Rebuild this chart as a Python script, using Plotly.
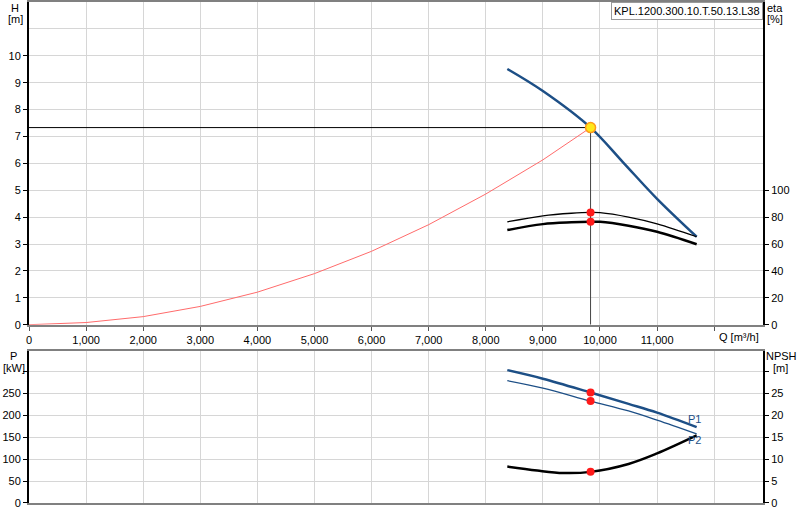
"""Pump performance chart: head / efficiency on top, power / NPSH below."""

import plotly.graph_objects as go

# operating point
OP_Q = 9835
OP_H = 7.33
OP_ETA = [83.5, 76.5]
OP_P = [252, 232.5]
OP_NPSH = 7.1

# pump head curve
Q_H = [8377, 9000, 9835, 10408, 11000, 11693]
H = [9.51, 8.69, 7.33, 6.03, 4.68, 3.27]

# system curve
Q_SYS = [0, 1000, 2000, 3000, 4000, 5000, 6000, 7000, 8000, 9000, 9835]
H_SYS = [0, 0.08, 0.30, 0.68, 1.21, 1.90, 2.73, 3.72, 4.86, 6.13, 7.33]

# efficiency curves
Q_ETA = [8377, 9000, 9500, 9835, 10000, 10500, 11000, 11693]
ETA_1 = [76.5, 81.0, 82.9, 83.5, 83.3, 80.0, 75.0, 65.4]
ETA_2 = [70.4, 74.8, 76.1, 76.5, 76.5, 73.6, 69.1, 59.8]

# power curves
Q_P = [8377, 9000, 9835, 10500, 11000, 11693]
P1 = [303, 283.5, 252, 226, 206, 173]
P2 = [279, 262, 232.5, 210, 189, 157.5]

# NPSH curve
Q_NPSH = [8377, 8900, 9358, 9835, 10500, 11000, 11693]
NPSH = [8.3, 7.4, 6.85, 7.1, 8.9, 11.3, 15.4]

Q_TICKS = list(range(0, 13000, 1000))
Q_LABELS = [f"{q:,}" for q in Q_TICKS[:-1]] + [""]
MODEL = "KPL.1200.300.10.T.50.13.L38"

BLUE = "#1d4f86"
GRID = "#d6d6d6"
FONT = dict(family="Liberation Sans, Arial, sans-serif", size=11, color="#000000")

fig = go.Figure()

# top panel
fig.add_trace(go.Scatter(x=Q_SYS, y=H_SYS, mode="lines", line=dict(color="#ff6b6b", width=1),
                         xaxis="x", yaxis="y"))
fig.add_trace(go.Scatter(x=[0, OP_Q], y=[OP_H, OP_H], mode="lines", line=dict(color="#000000", width=1),
                         xaxis="x", yaxis="y"))
fig.add_trace(go.Scatter(x=[OP_Q, OP_Q], y=[OP_H, 0], mode="lines", line=dict(color="#444444", width=1),
                         xaxis="x", yaxis="y"))
fig.add_trace(go.Scatter(x=Q_H, y=H, mode="lines", line=dict(color=BLUE, width=2.5, shape="spline"),
                         xaxis="x", yaxis="y"))
fig.add_trace(go.Scatter(x=Q_ETA, y=ETA_1, mode="lines", line=dict(color="#000000", width=1.3, shape="spline"),
                         xaxis="x", yaxis="y2"))
fig.add_trace(go.Scatter(x=Q_ETA, y=ETA_2, mode="lines", line=dict(color="#000000", width=2.5, shape="spline"),
                         xaxis="x", yaxis="y2"))
fig.add_trace(go.Scatter(x=[OP_Q, OP_Q], y=OP_ETA, mode="markers", marker=dict(color="#ff1a1a", size=8),
                         xaxis="x", yaxis="y2"))
fig.add_trace(go.Scatter(x=[OP_Q], y=[OP_H], mode="markers",
                         marker=dict(color="#ffe81a", size=10, line=dict(color="#ff9a1a", width=1.5)),
                         xaxis="x", yaxis="y"))

# bottom panel
fig.add_trace(go.Scatter(x=Q_P, y=P1, mode="lines", line=dict(color=BLUE, width=2.5, shape="spline"),
                         xaxis="x2", yaxis="y3"))
fig.add_trace(go.Scatter(x=Q_P, y=P2, mode="lines", line=dict(color=BLUE, width=1.3, shape="spline"),
                         xaxis="x2", yaxis="y3"))
fig.add_trace(go.Scatter(x=[OP_Q, OP_Q], y=OP_P, mode="markers", marker=dict(color="#ff1a1a", size=8),
                         xaxis="x2", yaxis="y3"))
fig.add_trace(go.Scatter(x=Q_NPSH, y=NPSH, mode="lines", line=dict(color="#000000", width=2.5, shape="spline"),
                         xaxis="x2", yaxis="y4"))
fig.add_trace(go.Scatter(x=[OP_Q], y=[OP_NPSH], mode="markers", marker=dict(color="#ff1a1a", size=8),
                         xaxis="x2", yaxis="y4"))

x_common = dict(range=[0, 12855], tickvals=Q_TICKS, showgrid=True, gridcolor=GRID, gridwidth=1,
                showline=True, linecolor="#808080", linewidth=2, mirror=True, zeroline=False)
y_left = dict(showline=True, linecolor="#000000", linewidth=2, ticks="outside", ticklen=4,
              tickcolor="#000000", showgrid=True, gridcolor=GRID, zeroline=False)
y_right = dict(side="right", showline=True, linecolor="#000000", linewidth=2, ticks="outside",
               ticklen=4, tickcolor="#000000", showgrid=False, zeroline=False)

fig.update_layout(
    width=800,
    height=520,
    margin=dict(l=29, r=37, t=0, b=17),
    paper_bgcolor="white",
    plot_bgcolor="white",
    font=FONT,
    showlegend=False,
    xaxis=dict(**x_common, anchor="y", ticktext=Q_LABELS, ticks="outside", ticklen=4, tickcolor="#555555"),
    yaxis=dict(**y_left, domain=[0.3559, 1], anchor="x", range=[0, 12], tickvals=list(range(0, 11)),
               minor=dict(dtick=1, showgrid=True, gridcolor=GRID, ticks="")),
    yaxis2=dict(**y_right, overlaying="y", anchor="x", range=[0, 240], tickvals=list(range(0, 101, 20))),
    xaxis2=dict(**x_common, anchor="y3", showticklabels=False, ticks=""),
    yaxis3=dict(**y_left, domain=[0, 0.3028], anchor="x2", range=[0, 346],
                tickvals=list(range(0, 301, 50)), ticktext=[str(v) for v in range(0, 251, 50)] + [""]),
    yaxis4=dict(**y_right, overlaying="y3", anchor="x2", range=[0, 34.6],
                tickvals=list(range(0, 31, 5)), ticktext=[str(v) for v in range(0, 26, 5)] + [""]),
)

annotations = [
    dict(text=MODEL, xref="paper", yref="paper", x=1, y=1, xanchor="right", yanchor="top",
         showarrow=False, bgcolor="white", bordercolor="#9a9a9a", borderwidth=1, borderpad=2),
    dict(text="Q [m³/h]", xref="x", yref="y", x=12434, y=0, yanchor="top", yshift=-4, showarrow=False),
    dict(text="P1", xref="x2", yref="y3", x=11650, y=192, showarrow=False, font=dict(color=BLUE)),
    dict(text="P2", xref="x2", yref="y3", x=11660, y=144, showarrow=False, font=dict(color=BLUE)),
]
# axis titles, two lines each
for text, px, py in [("H", 15, 6), ("[m]", 15, 17), ("eta", 775, 6), ("[%]", 775, 17),
                     ("P", 13, 355), ("[kW]", 14, 367), ("NPSH", 781, 355), ("[m]", 780, 367)]:
    annotations.append(dict(text=text, xref="paper", yref="paper", x=(px - 29) / 734, y=1 - py / 503,
                            xanchor="center", yanchor="middle", showarrow=False))
fig.update_layout(annotations=annotations)

# the page body has a default margin; drop it so the chart sits at the window corner
fig.write_html("out.html", config={"displayModeBar": False},
               post_script="document.body.style.margin = '0';")
